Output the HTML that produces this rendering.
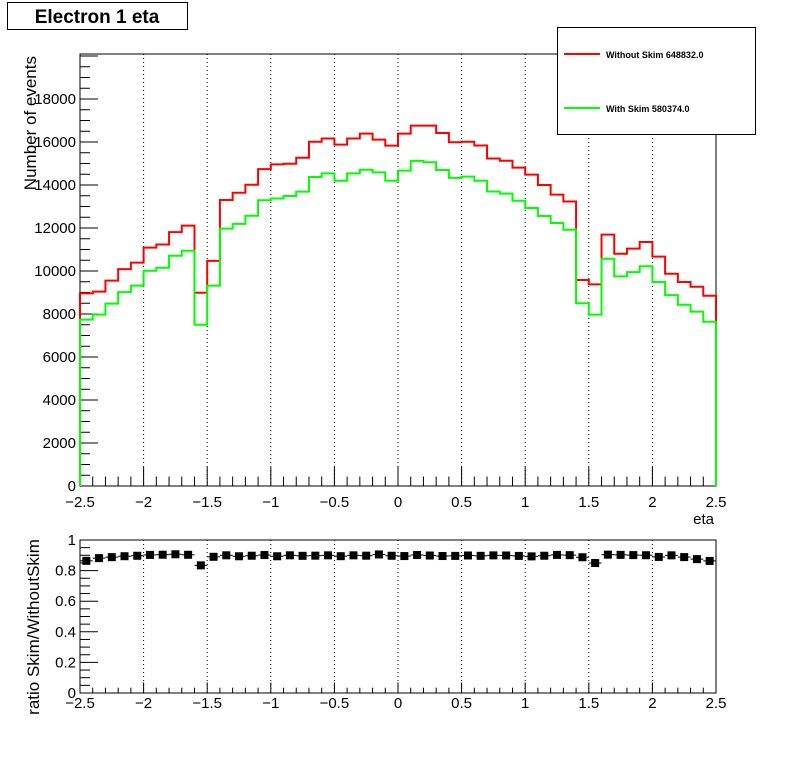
<!DOCTYPE html>
<html><head><meta charset="utf-8"><style>
html,body{margin:0;padding:0;background:#fff;}
svg{display:block;font-family:"Liberation Sans",sans-serif;}
</style></head><body>
<svg id="c" width="796" height="772" viewBox="0 0 796 772">
<rect x="0" y="0" width="796" height="772" fill="#fff"/>
<g>
<rect x="7.5" y="2.5" width="180" height="27" fill="#fff" stroke="#000" stroke-width="1"/>
<text x="97" y="23" font-size="19" font-weight="bold" text-anchor="middle">Electron 1 eta</text>
</g>
<g id="topPad"></g>
<g id="botPad"></g>
<g>
<rect x="557.5" y="27.5" width="198" height="107" fill="#fff" stroke="#000" stroke-width="1"/>
<g>
<line x1="564" y1="54" x2="600" y2="54" stroke="#ff0000" stroke-width="2"/>
<text x="606" y="58" font-size="9" font-weight="bold">Without Skim 648832.0</text>
</g>
<g>
<line x1="564" y1="108" x2="600" y2="108" stroke="#00ff00" stroke-width="2"/>
<text x="606" y="112" font-size="9" font-weight="bold">With Skim 580374.0</text>
</g>
</g>
</svg>
<script>
const binEdges = [-2.5, 2.5];
const nBins = 50;
const withoutSkim = [8960,9040,9550,10090,10390,11090,11230,11810,12110,8990,10470,13300,13640,14010,14740,14960,14990,15270,16010,16160,15880,16160,16390,16110,15830,
16390,16760,16760,16420,15990,16010,15840,15230,15130,14810,14480,14000,13550,13230,9580,9380,11690,10800,11040,11350,10670,9870,9490,9270,8850];
const withSkim = [7740,7970,8480,9020,9320,10010,10150,10710,10940,7500,9320,11970,12190,12570,13290,13370,13490,13690,14370,14540,14200,14540,14710,14590,14200,
14670,15120,15060,14700,14330,14390,14200,13700,13600,13270,12930,12560,12230,11920,8500,7970,10570,9750,9950,10220,9490,8880,8430,8110,7640];
const xTickLabels = ["\u22122.5","\u22122","\u22121.5","\u22121","\u22120.5","0","0.5","1","1.5","2","2.5"];
const yTickLabels = ["0","2000","4000","6000","8000","10000","12000","14000","16000","18000"];
const rTickLabels = ["0","0.2","0.4","0.6","0.8","1"];

const NS="http://www.w3.org/2000/svg";
function mk(p,tag,a){const e=document.createElementNS(NS,tag);for(const k in a)e.setAttribute(k,a[k]);p.appendChild(e);return e;}
const X0=80,X1=716;
const xs=v=>X0+(v-binEdges[0])/(binEdges[1]-binEdges[0])*(X1-X0);
const TY0=486,TY1=54,TMAX=20093;
const ys=v=>TY0-v/TMAX*(TY0-TY1);
const RY0=693,RY1=540,RMAX=1.0;
const rs=v=>RY0-v/RMAX*(RY0-RY1);
const bw=(binEdges[1]-binEdges[0])/nBins;

function pad(g,y0,y1,yscale,ylabels,ystep,yminor,ymax,xlabY){
  for(let i=1;i<xTickLabels.length-1;i++){
    const x=xs(binEdges[0]+i*0.5);
    const l=mk(g,'line',{x1:x,y1:y1,x2:x,y2:y0,stroke:'#000','stroke-width':1,'stroke-dasharray':'1,3'});
    
    
  }
  for(let i=0;i<=50;i++){
    const x=xs(binEdges[0]+i*0.1);const major=i%5===0;
    mk(g,'line',{x1:x,y1:y0,x2:x,y2:y0-(major?(y0-y1)*0.03+6:(y0-y1)*0.015+3),stroke:'#000'});
  }
  xTickLabels.forEach((t,i)=>{
    const tx=mk(g,'text',{x:xs(binEdges[0]+i*0.5),y:xlabY,'font-size':15,'text-anchor':'middle'});
    tx.textContent=t;
    
    
  });
  for(let k=0;k*yminor<=ymax+1e-9;k++){
    const v=k*yminor;
    const major=Math.abs(v/ystep-Math.round(v/ystep))<1e-6;
    const y=yscale(v);
    mk(g,'line',{x1:X0,y1:y,x2:X0+(major?18:10),y2:y,stroke:'#000'});
  }
  ylabels.forEach((t,i)=>{
    const tx=mk(g,'text',{x:X0-4,y:yscale(i*ystep)+5,'font-size':15,'text-anchor':'end'});
    tx.textContent=t;
    
    
  });
  const fr=mk(g,'rect',{x:X0,y:y1,width:X1-X0,height:y0-y1,fill:'none',stroke:'#000','stroke-width':1});
  
  
}

const topG=document.getElementById('topPad');
pad(topG,TY0,TY1,ys,yTickLabels,2000,500,TMAX,507);
function hist(data,color,name){
  let d='M'+xs(binEdges[0])+','+TY0;
  data.forEach((v,i)=>{d+=' L'+xs(binEdges[0]+i*bw)+','+ys(v)+' L'+xs(binEdges[0]+(i+1)*bw)+','+ys(v);});
  d+=' L'+xs(binEdges[1])+','+TY0;
  const p=mk(topG,'path',{d:d,fill:'none',stroke:color,'stroke-width':2});
  
  
}
hist(withoutSkim,'#ff0000','hist-without-skim');
hist(withSkim,'#00ff00','hist-with-skim');
let t=mk(topG,'text',{x:714,y:524,'font-size':15,'text-anchor':'end'});t.textContent='eta';


t=mk(topG,'text',{x:0,y:0,'font-size':17,'text-anchor':'end',transform:'translate(36,56) rotate(-90)'});t.textContent='Number of events';



const botG=document.getElementById('botPad');
pad(botG,RY0,RY1,rs,rTickLabels,0.2,0.05,RMAX,708);
withoutSkim.forEach((r,i)=>{
  const v=withSkim[i]/r;
  const cx=xs(binEdges[0]+(i+0.5)*bw),cy=rs(v);
  const g=mk(botG,'g',{});
  
  
  mk(g,'line',{x1:xs(binEdges[0]+i*bw),y1:cy,x2:xs(binEdges[0]+(i+1)*bw),y2:cy,stroke:'#000','stroke-width':1});
  mk(g,'rect',{x:cx-4,y:cy-4,width:8,height:8,fill:'#000'});
});
t=mk(botG,'text',{x:0,y:0,'font-size':17,'text-anchor':'middle',transform:'translate(39,627) rotate(-90)'});t.textContent='ratio Skim/WithoutSkim';


</script>
</body></html>
